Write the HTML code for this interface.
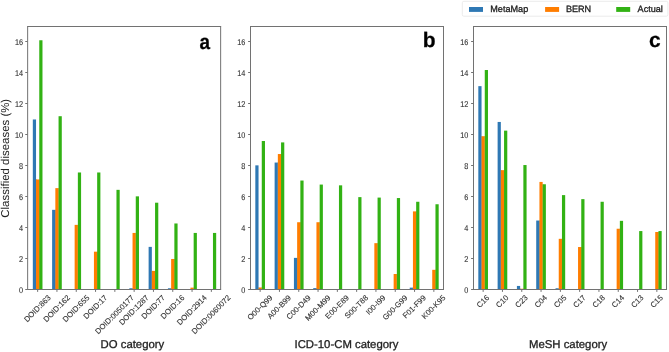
<!DOCTYPE html>
<html><head><meta charset="utf-8"><style>
html,body{margin:0;padding:0;background:#fff;width:669px;height:352px;overflow:hidden}
svg{display:block;font-family:"Liberation Sans",sans-serif;will-change:transform}
text{text-rendering:geometricPrecision;stroke:#222;stroke-width:0.3px}
text.t{stroke-width:0.1px}
text.yl{stroke-width:0.0px}
</style></head><body>
<svg width="669" height="352" viewBox="0 0 669 352">
<rect width="669" height="352" fill="#fff"/>
<rect x="32.82" y="119.47" width="3.22" height="170.03" fill="#2e78b4"/>
<rect x="35.94" y="179.45" width="0.7" height="110.05" fill="#2e78b4"/>
<rect x="36.04" y="179.45" width="3.22" height="110.05" fill="#ff7d00"/>
<rect x="39.16" y="179.45" width="0.7" height="110.05" fill="#ff7d00"/>
<rect x="39.26" y="40.26" width="3.22" height="249.24" fill="#32b214"/>
<rect x="52.12" y="209.83" width="3.22" height="79.67" fill="#2e78b4"/>
<rect x="55.24" y="209.83" width="0.7" height="79.67" fill="#2e78b4"/>
<rect x="55.34" y="188.13" width="3.22" height="101.37" fill="#ff7d00"/>
<rect x="58.46" y="188.13" width="0.7" height="101.37" fill="#ff7d00"/>
<rect x="58.56" y="116.21" width="3.22" height="173.29" fill="#32b214"/>
<rect x="74.64" y="224.87" width="3.22" height="64.63" fill="#ff7d00"/>
<rect x="77.76" y="224.87" width="0.7" height="64.63" fill="#ff7d00"/>
<rect x="77.86" y="172.48" width="3.22" height="117.02" fill="#32b214"/>
<rect x="93.94" y="251.68" width="3.22" height="37.82" fill="#ff7d00"/>
<rect x="97.06" y="251.68" width="0.7" height="37.82" fill="#ff7d00"/>
<rect x="97.16" y="172.48" width="3.22" height="117.02" fill="#32b214"/>
<rect x="116.46" y="189.84" width="3.22" height="99.66" fill="#32b214"/>
<rect x="129.33" y="288.26" width="3.22" height="1.24" fill="#2e78b4"/>
<rect x="132.44" y="288.26" width="0.7" height="1.24" fill="#2e78b4"/>
<rect x="132.54" y="232.93" width="3.22" height="56.57" fill="#ff7d00"/>
<rect x="135.66" y="232.93" width="0.7" height="56.57" fill="#ff7d00"/>
<rect x="135.76" y="196.35" width="3.22" height="93.15" fill="#32b214"/>
<rect x="148.62" y="246.88" width="3.22" height="42.62" fill="#2e78b4"/>
<rect x="151.74" y="270.90" width="0.7" height="18.60" fill="#2e78b4"/>
<rect x="151.84" y="270.90" width="3.22" height="18.60" fill="#ff7d00"/>
<rect x="154.96" y="270.90" width="0.7" height="18.60" fill="#ff7d00"/>
<rect x="155.06" y="202.70" width="3.22" height="86.80" fill="#32b214"/>
<rect x="167.93" y="288.26" width="3.22" height="1.24" fill="#2e78b4"/>
<rect x="171.04" y="288.26" width="0.7" height="1.24" fill="#2e78b4"/>
<rect x="171.14" y="258.97" width="3.22" height="30.53" fill="#ff7d00"/>
<rect x="174.26" y="258.97" width="0.7" height="30.53" fill="#ff7d00"/>
<rect x="174.36" y="223.47" width="3.22" height="66.03" fill="#32b214"/>
<rect x="190.44" y="287.64" width="3.22" height="1.86" fill="#ff7d00"/>
<rect x="193.56" y="287.64" width="0.7" height="1.86" fill="#ff7d00"/>
<rect x="193.66" y="232.93" width="3.22" height="56.57" fill="#32b214"/>
<rect x="212.96" y="232.93" width="3.22" height="56.57" fill="#32b214"/>
<line x1="27.15" y1="26.50" x2="221.15" y2="26.50" stroke="#727272" stroke-width="1"/>
<line x1="27.15" y1="289.50" x2="221.15" y2="289.50" stroke="#727272" stroke-width="1"/>
<line x1="27.65" y1="26.50" x2="27.65" y2="289.50" stroke="#727272" stroke-width="1"/>
<line x1="220.65" y1="26.50" x2="220.65" y2="289.50" stroke="#727272" stroke-width="1"/>
<line x1="25.25" y1="289.50" x2="27.65" y2="289.50" stroke="#727272" stroke-width="1"/>
<text transform="translate(23.05,293.35) scale(0.88,1)" font-size="8.3" text-anchor="end" class="t" fill="#333">0</text>
<line x1="25.25" y1="258.50" x2="27.65" y2="258.50" stroke="#727272" stroke-width="1"/>
<text transform="translate(23.05,262.35) scale(0.88,1)" font-size="8.3" text-anchor="end" class="t" fill="#333">2</text>
<line x1="25.25" y1="227.50" x2="27.65" y2="227.50" stroke="#727272" stroke-width="1"/>
<text transform="translate(23.05,231.35) scale(0.88,1)" font-size="8.3" text-anchor="end" class="t" fill="#333">4</text>
<line x1="25.25" y1="196.50" x2="27.65" y2="196.50" stroke="#727272" stroke-width="1"/>
<text transform="translate(23.05,200.35) scale(0.88,1)" font-size="8.3" text-anchor="end" class="t" fill="#333">6</text>
<line x1="25.25" y1="165.50" x2="27.65" y2="165.50" stroke="#727272" stroke-width="1"/>
<text transform="translate(23.05,169.35) scale(0.88,1)" font-size="8.3" text-anchor="end" class="t" fill="#333">8</text>
<line x1="25.25" y1="134.50" x2="27.65" y2="134.50" stroke="#727272" stroke-width="1"/>
<text transform="translate(23.05,138.35) scale(0.88,1)" font-size="8.3" text-anchor="end" class="t" fill="#333">10</text>
<line x1="25.25" y1="103.50" x2="27.65" y2="103.50" stroke="#727272" stroke-width="1"/>
<text transform="translate(23.05,107.35) scale(0.88,1)" font-size="8.3" text-anchor="end" class="t" fill="#333">12</text>
<line x1="25.25" y1="72.50" x2="27.65" y2="72.50" stroke="#727272" stroke-width="1"/>
<text transform="translate(23.05,76.35) scale(0.88,1)" font-size="8.3" text-anchor="end" class="t" fill="#333">14</text>
<line x1="25.25" y1="41.50" x2="27.65" y2="41.50" stroke="#727272" stroke-width="1"/>
<text transform="translate(23.05,45.35) scale(0.88,1)" font-size="8.3" text-anchor="end" class="t" fill="#333">16</text>
<line x1="37.65" y1="289.50" x2="37.65" y2="291.90" stroke="#727272" stroke-width="1"/>
<text transform="translate(51.33,298.25) rotate(-45)" font-size="7.7" class="t" text-anchor="end" fill="#333">DOID:863</text>
<line x1="56.95" y1="289.50" x2="56.95" y2="291.90" stroke="#727272" stroke-width="1"/>
<text transform="translate(70.63,298.25) rotate(-45)" font-size="7.7" class="t" text-anchor="end" fill="#333">DOID:162</text>
<line x1="76.25" y1="289.50" x2="76.25" y2="291.90" stroke="#727272" stroke-width="1"/>
<text transform="translate(89.93,298.25) rotate(-45)" font-size="7.7" class="t" text-anchor="end" fill="#333">DOID:655</text>
<line x1="95.55" y1="289.50" x2="95.55" y2="291.90" stroke="#727272" stroke-width="1"/>
<text transform="translate(107.72,298.25) rotate(-45)" font-size="7.7" class="t" text-anchor="end" fill="#333">DOID:17</text>
<line x1="114.85" y1="289.50" x2="114.85" y2="291.90" stroke="#727272" stroke-width="1"/>
<text transform="translate(134.59,298.25) rotate(-45)" font-size="7.7" class="t" text-anchor="end" fill="#333">DOID:0050177</text>
<line x1="134.15" y1="289.50" x2="134.15" y2="291.90" stroke="#727272" stroke-width="1"/>
<text transform="translate(149.35,298.25) rotate(-45)" font-size="7.7" class="t" text-anchor="end" fill="#333">DOID:1287</text>
<line x1="153.45" y1="289.50" x2="153.45" y2="291.90" stroke="#727272" stroke-width="1"/>
<text transform="translate(165.62,298.25) rotate(-45)" font-size="7.7" class="t" text-anchor="end" fill="#333">DOID:77</text>
<line x1="172.75" y1="289.50" x2="172.75" y2="291.90" stroke="#727272" stroke-width="1"/>
<text transform="translate(184.92,298.25) rotate(-45)" font-size="7.7" class="t" text-anchor="end" fill="#333">DOID:16</text>
<line x1="192.05" y1="289.50" x2="192.05" y2="291.90" stroke="#727272" stroke-width="1"/>
<text transform="translate(207.25,298.25) rotate(-45)" font-size="7.7" class="t" text-anchor="end" fill="#333">DOID:2914</text>
<line x1="211.35" y1="289.50" x2="211.35" y2="291.90" stroke="#727272" stroke-width="1"/>
<text transform="translate(231.09,298.25) rotate(-45)" font-size="7.7" class="t" text-anchor="end" fill="#333">DOID:0060072</text>
<text transform="translate(210.00,48.60) scale(0.9,1)" font-size="21" font-weight="bold" text-anchor="end" fill="#000">a</text>
<text x="132.40" y="348.00" font-size="11.35" text-anchor="middle" fill="#222">DO category</text>
<rect x="255.32" y="165.35" width="3.22" height="124.15" fill="#2e78b4"/>
<rect x="258.44" y="287.49" width="0.7" height="2.01" fill="#2e78b4"/>
<rect x="258.54" y="287.49" width="3.22" height="2.01" fill="#ff7d00"/>
<rect x="261.66" y="287.49" width="0.7" height="2.01" fill="#ff7d00"/>
<rect x="261.76" y="141.01" width="3.22" height="148.49" fill="#32b214"/>
<rect x="274.62" y="162.56" width="3.22" height="126.94" fill="#2e78b4"/>
<rect x="277.74" y="162.56" width="0.7" height="126.94" fill="#2e78b4"/>
<rect x="277.84" y="154.03" width="3.22" height="135.47" fill="#ff7d00"/>
<rect x="280.96" y="154.03" width="0.7" height="135.47" fill="#ff7d00"/>
<rect x="281.06" y="142.41" width="3.22" height="147.09" fill="#32b214"/>
<rect x="293.93" y="257.88" width="3.22" height="31.62" fill="#2e78b4"/>
<rect x="297.04" y="257.88" width="0.7" height="31.62" fill="#2e78b4"/>
<rect x="297.14" y="222.23" width="3.22" height="67.27" fill="#ff7d00"/>
<rect x="300.26" y="222.23" width="0.7" height="67.27" fill="#ff7d00"/>
<rect x="300.36" y="180.54" width="3.22" height="108.96" fill="#32b214"/>
<rect x="313.23" y="288.11" width="3.22" height="1.39" fill="#2e78b4"/>
<rect x="316.34" y="288.11" width="0.7" height="1.39" fill="#2e78b4"/>
<rect x="316.44" y="222.23" width="3.22" height="67.27" fill="#ff7d00"/>
<rect x="319.56" y="222.23" width="0.7" height="67.27" fill="#ff7d00"/>
<rect x="319.66" y="184.57" width="3.22" height="104.93" fill="#32b214"/>
<rect x="338.96" y="185.34" width="3.22" height="104.16" fill="#32b214"/>
<rect x="358.26" y="197.12" width="3.22" height="92.38" fill="#32b214"/>
<rect x="374.34" y="243.16" width="3.22" height="46.34" fill="#ff7d00"/>
<rect x="377.46" y="243.16" width="0.7" height="46.34" fill="#ff7d00"/>
<rect x="377.56" y="197.59" width="3.22" height="91.91" fill="#32b214"/>
<rect x="393.64" y="274.00" width="3.22" height="15.50" fill="#ff7d00"/>
<rect x="396.76" y="274.00" width="0.7" height="15.50" fill="#ff7d00"/>
<rect x="396.86" y="198.05" width="3.22" height="91.45" fill="#32b214"/>
<rect x="409.73" y="287.64" width="3.22" height="1.86" fill="#2e78b4"/>
<rect x="412.84" y="287.64" width="0.7" height="1.86" fill="#2e78b4"/>
<rect x="412.94" y="211.38" width="3.22" height="78.12" fill="#ff7d00"/>
<rect x="416.06" y="211.38" width="0.7" height="78.12" fill="#ff7d00"/>
<rect x="416.16" y="201.77" width="3.22" height="87.73" fill="#32b214"/>
<rect x="432.24" y="269.82" width="3.22" height="19.68" fill="#ff7d00"/>
<rect x="435.36" y="269.82" width="0.7" height="19.68" fill="#ff7d00"/>
<rect x="435.46" y="204.25" width="3.22" height="85.25" fill="#32b214"/>
<line x1="250.00" y1="26.50" x2="444.00" y2="26.50" stroke="#727272" stroke-width="1"/>
<line x1="250.00" y1="289.50" x2="444.00" y2="289.50" stroke="#727272" stroke-width="1"/>
<line x1="250.50" y1="26.50" x2="250.50" y2="289.50" stroke="#727272" stroke-width="1"/>
<line x1="443.50" y1="26.50" x2="443.50" y2="289.50" stroke="#727272" stroke-width="1"/>
<line x1="248.10" y1="289.50" x2="250.50" y2="289.50" stroke="#727272" stroke-width="1"/>
<text transform="translate(245.40,293.35) scale(0.88,1)" font-size="8.3" text-anchor="end" class="t" fill="#333">0</text>
<line x1="248.10" y1="258.50" x2="250.50" y2="258.50" stroke="#727272" stroke-width="1"/>
<text transform="translate(245.40,262.35) scale(0.88,1)" font-size="8.3" text-anchor="end" class="t" fill="#333">2</text>
<line x1="248.10" y1="227.50" x2="250.50" y2="227.50" stroke="#727272" stroke-width="1"/>
<text transform="translate(245.40,231.35) scale(0.88,1)" font-size="8.3" text-anchor="end" class="t" fill="#333">4</text>
<line x1="248.10" y1="196.50" x2="250.50" y2="196.50" stroke="#727272" stroke-width="1"/>
<text transform="translate(245.40,200.35) scale(0.88,1)" font-size="8.3" text-anchor="end" class="t" fill="#333">6</text>
<line x1="248.10" y1="165.50" x2="250.50" y2="165.50" stroke="#727272" stroke-width="1"/>
<text transform="translate(245.40,169.35) scale(0.88,1)" font-size="8.3" text-anchor="end" class="t" fill="#333">8</text>
<line x1="248.10" y1="134.50" x2="250.50" y2="134.50" stroke="#727272" stroke-width="1"/>
<text transform="translate(245.40,138.35) scale(0.88,1)" font-size="8.3" text-anchor="end" class="t" fill="#333">10</text>
<line x1="248.10" y1="103.50" x2="250.50" y2="103.50" stroke="#727272" stroke-width="1"/>
<text transform="translate(245.40,107.35) scale(0.88,1)" font-size="8.3" text-anchor="end" class="t" fill="#333">12</text>
<line x1="248.10" y1="72.50" x2="250.50" y2="72.50" stroke="#727272" stroke-width="1"/>
<text transform="translate(245.40,76.35) scale(0.88,1)" font-size="8.3" text-anchor="end" class="t" fill="#333">14</text>
<line x1="248.10" y1="41.50" x2="250.50" y2="41.50" stroke="#727272" stroke-width="1"/>
<text transform="translate(245.40,45.35) scale(0.88,1)" font-size="8.3" text-anchor="end" class="t" fill="#333">16</text>
<line x1="260.15" y1="289.50" x2="260.15" y2="291.90" stroke="#727272" stroke-width="1"/>
<text transform="translate(272.93,298.25) rotate(-45)" font-size="7.7" class="t" text-anchor="end" fill="#333">O00-Q99</text>
<line x1="279.45" y1="289.50" x2="279.45" y2="291.90" stroke="#727272" stroke-width="1"/>
<text transform="translate(291.62,298.25) rotate(-45)" font-size="7.7" class="t" text-anchor="end" fill="#333">A00-B99</text>
<line x1="298.75" y1="289.50" x2="298.75" y2="291.90" stroke="#727272" stroke-width="1"/>
<text transform="translate(311.22,298.25) rotate(-45)" font-size="7.7" class="t" text-anchor="end" fill="#333">C00-D49</text>
<line x1="318.05" y1="289.50" x2="318.05" y2="291.90" stroke="#727272" stroke-width="1"/>
<text transform="translate(331.13,298.25) rotate(-45)" font-size="7.7" class="t" text-anchor="end" fill="#333">M00-M99</text>
<line x1="337.35" y1="289.50" x2="337.35" y2="291.90" stroke="#727272" stroke-width="1"/>
<text transform="translate(349.52,298.25) rotate(-45)" font-size="7.7" class="t" text-anchor="end" fill="#333">E00-E89</text>
<line x1="356.65" y1="289.50" x2="356.65" y2="291.90" stroke="#727272" stroke-width="1"/>
<text transform="translate(368.67,298.25) rotate(-45)" font-size="7.7" class="t" text-anchor="end" fill="#333">S00-T88</text>
<line x1="375.95" y1="289.50" x2="375.95" y2="291.90" stroke="#727272" stroke-width="1"/>
<text transform="translate(386.00,298.25) rotate(-45)" font-size="7.7" class="t" text-anchor="end" fill="#333">I00-I99</text>
<line x1="395.25" y1="289.50" x2="395.25" y2="291.90" stroke="#727272" stroke-width="1"/>
<text transform="translate(408.03,298.25) rotate(-45)" font-size="7.7" class="t" text-anchor="end" fill="#333">G00-G99</text>
<line x1="414.55" y1="289.50" x2="414.55" y2="291.90" stroke="#727272" stroke-width="1"/>
<text transform="translate(426.42,298.25) rotate(-45)" font-size="7.7" class="t" text-anchor="end" fill="#333">F01-F99</text>
<line x1="433.85" y1="289.50" x2="433.85" y2="291.90" stroke="#727272" stroke-width="1"/>
<text transform="translate(446.02,298.25) rotate(-45)" font-size="7.7" class="t" text-anchor="end" fill="#333">K00-K95</text>
<text transform="translate(435.50,46.60) scale(1.0,1)" font-size="21" font-weight="bold" text-anchor="end" fill="#000">b</text>
<text x="346.50" y="348.00" font-size="11.35" text-anchor="middle" fill="#222">ICD-10-CM category</text>
<rect x="478.32" y="86.14" width="3.22" height="203.36" fill="#2e78b4"/>
<rect x="481.44" y="136.21" width="0.7" height="153.29" fill="#2e78b4"/>
<rect x="481.54" y="136.21" width="3.22" height="153.29" fill="#ff7d00"/>
<rect x="484.66" y="136.21" width="0.7" height="153.29" fill="#ff7d00"/>
<rect x="484.76" y="70.02" width="3.22" height="219.48" fill="#32b214"/>
<rect x="497.62" y="121.95" width="3.22" height="167.55" fill="#2e78b4"/>
<rect x="500.74" y="170.15" width="0.7" height="119.35" fill="#2e78b4"/>
<rect x="500.84" y="170.15" width="3.22" height="119.35" fill="#ff7d00"/>
<rect x="503.96" y="170.15" width="0.7" height="119.35" fill="#ff7d00"/>
<rect x="504.06" y="130.63" width="3.22" height="158.87" fill="#32b214"/>
<rect x="516.92" y="285.94" width="3.22" height="3.56" fill="#2e78b4"/>
<rect x="520.04" y="288.73" width="0.7" height="0.77" fill="#2e78b4"/>
<rect x="520.14" y="288.73" width="3.22" height="0.77" fill="#ff7d00"/>
<rect x="523.26" y="288.73" width="0.7" height="0.77" fill="#ff7d00"/>
<rect x="523.36" y="165.04" width="3.22" height="124.46" fill="#32b214"/>
<rect x="536.22" y="220.53" width="3.22" height="68.97" fill="#2e78b4"/>
<rect x="539.34" y="220.53" width="0.7" height="68.97" fill="#2e78b4"/>
<rect x="539.44" y="181.93" width="3.22" height="107.57" fill="#ff7d00"/>
<rect x="542.56" y="184.26" width="0.7" height="105.24" fill="#ff7d00"/>
<rect x="542.66" y="184.26" width="3.22" height="105.24" fill="#32b214"/>
<rect x="555.52" y="288.26" width="3.22" height="1.24" fill="#2e78b4"/>
<rect x="558.64" y="288.26" width="0.7" height="1.24" fill="#2e78b4"/>
<rect x="558.74" y="238.82" width="3.22" height="50.68" fill="#ff7d00"/>
<rect x="561.86" y="238.82" width="0.7" height="50.68" fill="#ff7d00"/>
<rect x="561.96" y="195.11" width="3.22" height="94.39" fill="#32b214"/>
<rect x="578.04" y="247.03" width="3.22" height="42.47" fill="#ff7d00"/>
<rect x="581.16" y="247.03" width="0.7" height="42.47" fill="#ff7d00"/>
<rect x="581.26" y="199.14" width="3.22" height="90.36" fill="#32b214"/>
<rect x="600.56" y="201.77" width="3.22" height="87.73" fill="#32b214"/>
<rect x="616.64" y="228.74" width="3.22" height="60.76" fill="#ff7d00"/>
<rect x="619.76" y="228.74" width="0.7" height="60.76" fill="#ff7d00"/>
<rect x="619.86" y="220.84" width="3.22" height="68.66" fill="#32b214"/>
<rect x="639.16" y="231.07" width="3.22" height="58.43" fill="#32b214"/>
<rect x="655.24" y="232.00" width="3.22" height="57.50" fill="#ff7d00"/>
<rect x="658.36" y="232.00" width="0.7" height="57.50" fill="#ff7d00"/>
<rect x="658.46" y="231.07" width="3.22" height="58.43" fill="#32b214"/>
<line x1="473.00" y1="26.50" x2="667.00" y2="26.50" stroke="#727272" stroke-width="1"/>
<line x1="473.00" y1="289.50" x2="667.00" y2="289.50" stroke="#727272" stroke-width="1"/>
<line x1="473.50" y1="26.50" x2="473.50" y2="289.50" stroke="#727272" stroke-width="1"/>
<line x1="666.50" y1="26.50" x2="666.50" y2="289.50" stroke="#727272" stroke-width="1"/>
<line x1="471.10" y1="289.50" x2="473.50" y2="289.50" stroke="#727272" stroke-width="1"/>
<text transform="translate(468.40,293.35) scale(0.88,1)" font-size="8.3" text-anchor="end" class="t" fill="#333">0</text>
<line x1="471.10" y1="258.50" x2="473.50" y2="258.50" stroke="#727272" stroke-width="1"/>
<text transform="translate(468.40,262.35) scale(0.88,1)" font-size="8.3" text-anchor="end" class="t" fill="#333">2</text>
<line x1="471.10" y1="227.50" x2="473.50" y2="227.50" stroke="#727272" stroke-width="1"/>
<text transform="translate(468.40,231.35) scale(0.88,1)" font-size="8.3" text-anchor="end" class="t" fill="#333">4</text>
<line x1="471.10" y1="196.50" x2="473.50" y2="196.50" stroke="#727272" stroke-width="1"/>
<text transform="translate(468.40,200.35) scale(0.88,1)" font-size="8.3" text-anchor="end" class="t" fill="#333">6</text>
<line x1="471.10" y1="165.50" x2="473.50" y2="165.50" stroke="#727272" stroke-width="1"/>
<text transform="translate(468.40,169.35) scale(0.88,1)" font-size="8.3" text-anchor="end" class="t" fill="#333">8</text>
<line x1="471.10" y1="134.50" x2="473.50" y2="134.50" stroke="#727272" stroke-width="1"/>
<text transform="translate(468.40,138.35) scale(0.88,1)" font-size="8.3" text-anchor="end" class="t" fill="#333">10</text>
<line x1="471.10" y1="103.50" x2="473.50" y2="103.50" stroke="#727272" stroke-width="1"/>
<text transform="translate(468.40,107.35) scale(0.88,1)" font-size="8.3" text-anchor="end" class="t" fill="#333">12</text>
<line x1="471.10" y1="72.50" x2="473.50" y2="72.50" stroke="#727272" stroke-width="1"/>
<text transform="translate(468.40,76.35) scale(0.88,1)" font-size="8.3" text-anchor="end" class="t" fill="#333">14</text>
<line x1="471.10" y1="41.50" x2="473.50" y2="41.50" stroke="#727272" stroke-width="1"/>
<text transform="translate(468.40,45.35) scale(0.88,1)" font-size="8.3" text-anchor="end" class="t" fill="#333">16</text>
<line x1="483.15" y1="289.50" x2="483.15" y2="291.90" stroke="#727272" stroke-width="1"/>
<text transform="translate(489.72,298.25) rotate(-45)" font-size="7.7" class="t" text-anchor="end" fill="#333">C16</text>
<line x1="502.45" y1="289.50" x2="502.45" y2="291.90" stroke="#727272" stroke-width="1"/>
<text transform="translate(509.02,298.25) rotate(-45)" font-size="7.7" class="t" text-anchor="end" fill="#333">C10</text>
<line x1="521.75" y1="289.50" x2="521.75" y2="291.90" stroke="#727272" stroke-width="1"/>
<text transform="translate(528.32,298.25) rotate(-45)" font-size="7.7" class="t" text-anchor="end" fill="#333">C23</text>
<line x1="541.05" y1="289.50" x2="541.05" y2="291.90" stroke="#727272" stroke-width="1"/>
<text transform="translate(547.62,298.25) rotate(-45)" font-size="7.7" class="t" text-anchor="end" fill="#333">C04</text>
<line x1="560.35" y1="289.50" x2="560.35" y2="291.90" stroke="#727272" stroke-width="1"/>
<text transform="translate(566.92,298.25) rotate(-45)" font-size="7.7" class="t" text-anchor="end" fill="#333">C05</text>
<line x1="579.65" y1="289.50" x2="579.65" y2="291.90" stroke="#727272" stroke-width="1"/>
<text transform="translate(586.22,298.25) rotate(-45)" font-size="7.7" class="t" text-anchor="end" fill="#333">C17</text>
<line x1="598.95" y1="289.50" x2="598.95" y2="291.90" stroke="#727272" stroke-width="1"/>
<text transform="translate(605.52,298.25) rotate(-45)" font-size="7.7" class="t" text-anchor="end" fill="#333">C18</text>
<line x1="618.25" y1="289.50" x2="618.25" y2="291.90" stroke="#727272" stroke-width="1"/>
<text transform="translate(624.82,298.25) rotate(-45)" font-size="7.7" class="t" text-anchor="end" fill="#333">C14</text>
<line x1="637.55" y1="289.50" x2="637.55" y2="291.90" stroke="#727272" stroke-width="1"/>
<text transform="translate(644.12,298.25) rotate(-45)" font-size="7.7" class="t" text-anchor="end" fill="#333">C13</text>
<line x1="656.85" y1="289.50" x2="656.85" y2="291.90" stroke="#727272" stroke-width="1"/>
<text transform="translate(663.42,298.25) rotate(-45)" font-size="7.7" class="t" text-anchor="end" fill="#333">C15</text>
<text transform="translate(660.60,46.60) scale(1.0,1)" font-size="21" font-weight="bold" text-anchor="end" fill="#000">c</text>
<text x="568.10" y="348.00" font-size="11.35" text-anchor="middle" fill="#222">MeSH category</text>
<text transform="translate(9.40,158.25) rotate(-90)" class="yl" font-size="11.45" text-anchor="middle" fill="#222">Classified diseases (%)</text>
<rect x="462.30" y="1.30" width="205.60" height="14.90" fill="#fff" stroke="#e6e6e6" stroke-width="0.8" rx="1.5"/>
<rect x="469.00" y="7.0" width="14" height="4.9" fill="#2e78b4"/>
<text x="490.30" y="12.00" font-size="9.1" fill="#222">MetaMap</text>
<rect x="545.10" y="7.0" width="14" height="4.9" fill="#ff7d00"/>
<text x="565.90" y="12.00" font-size="9.1" fill="#222">BERN</text>
<rect x="616.20" y="7.0" width="14" height="4.9" fill="#32b214"/>
<text x="637.60" y="12.00" font-size="9.1" fill="#222">Actual</text>
</svg></body></html>
